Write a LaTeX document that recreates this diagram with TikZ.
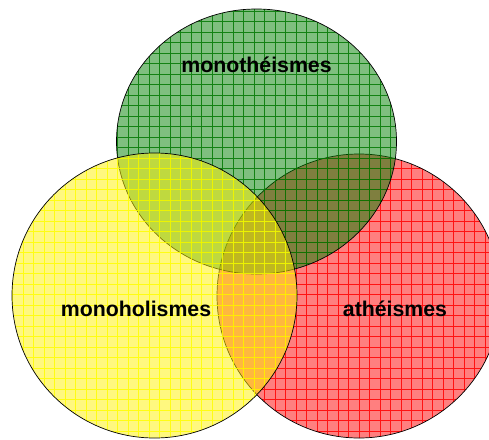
\documentclass[tikz,border=0pt]{standalone}
\usepackage{fontspec}
\setmainfont{Liberation Sans}
\definecolor{gdark}{RGB}{0,128,0}
\definecolor{gline}{RGB}{0,120,0}
\definecolor{rline}{RGB}{255,0,0}
\definecolor{yline}{RGB}{255,255,0}
\tikzset{
  setfill/.style={fill=#1, fill opacity=0.5},
  gridline/.style={draw=#1, line width=0.55pt, draw opacity=0.85},
  outline/.style={draw=black, line width=0.7pt},
  label/.style={font=\bfseries\fontsize{21.3}{24}\selectfont, anchor=base, text=black}
}
\newcommand{\mygrid}[1]{%
  \draw[gridline=#1] \foreach \i in {0,...,47} {(\i*10.5+2.2,0) -- (\i*10.5+2.2,439)}
                     \foreach \j in {0,...,42} {(0,\j*10.5+0.7) -- (489,\j*10.5+0.7)};}
\begin{document}
\begin{tikzpicture}[x=1pt,y=-1pt]
\useasboundingbox (0,0) rectangle (489,439);
\clip (0,0) rectangle (489,439);
% red circle (atheismes)
\fill[setfill=red] (359,296) circle (142);
\begin{scope}
  \clip (359,296) circle (142);
  \mygrid{rline}
\end{scope}
\draw[outline] (359,296) circle (142);
% green circle (monotheismes)
\fill[setfill=gdark] (256.5,141.5) ellipse [x radius=140, y radius=132.5];
\begin{scope}
  \clip (256.5,141.5) ellipse [x radius=140, y radius=132.5];
  \mygrid{gline}
\end{scope}
\draw[outline] (256.5,141.5) ellipse [x radius=140, y radius=132.5];
% yellow circle (monoholismes)
\fill[setfill=yellow] (154.5,295.5) circle (142.5);
\begin{scope}
  \clip (154.5,295.5) circle (142.5);
  \mygrid{yline}
\end{scope}
\draw[outline] (154.5,295.5) circle (142.5);
% labels
\node[label] (mono) at (256.5,72) {monothéismes};
\node[label] (holi) at (136,316) {monoholismes};
\node[label] (athe) at (395,316) {athéismes};
\end{tikzpicture}
\end{document}
